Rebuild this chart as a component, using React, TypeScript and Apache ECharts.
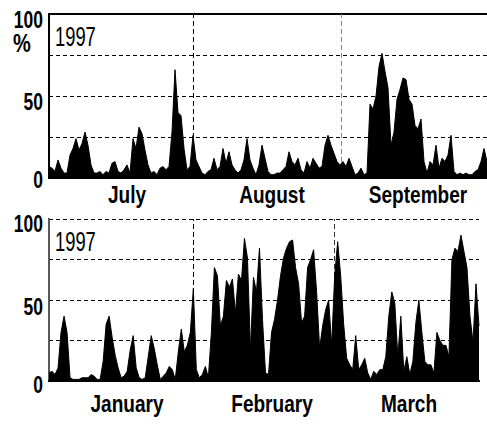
import React, { useEffect, useRef } from "react";
import * as echarts from "echarts";

const yearLabel = "1997";
const topMonths = ["July", "August", "September"];
const bottomMonths = ["January", "February", "March"];
const yTickLabels = [100, 50, 0];

// samples (every ~0.63 day) of percentage values
const topValues = [
  7, 6, 4, 11, 6, 3, 3, 14, 18, 24, 17, 21, 28, 20, 8, 3, 3, 4, 2, 4, 3, 9, 10, 4, 3, 5, 8, 3, 24, 18, 31, 27, 17, 8, 3, 4, 2, 6, 7, 5, 7, 28, 66, 40, 38, 18, 5, 7, 26,
  11, 7, 3, 2, 4, 5, 12, 5, 7, 18, 9, 16, 8, 5, 3, 5, 11, 24, 11, 6, 2, 8, 20, 12, 4, 2, 2, 3, 3, 5, 7, 16, 10, 8, 12, 5, 3, 10, 6, 12, 9, 6, 7, 20, 26, 20, 15, 10, 8,
  10, 7, 12, 7, 2, 3, 6, 2, 3, 45, 42, 50, 68, 76, 65, 55, 20, 28, 48, 54, 61, 60, 48, 45, 32, 30, 36, 10, 3, 10, 8, 20, 6, 12, 10, 14, 26, 4, 2, 3, 2, 3, 2, 2, 4, 5, 10, 18, 10,
];
const bottomValues = [
  5, 6, 4, 8, 30, 40, 30, 2, 1, 1, 1, 2, 2, 2, 4, 3, 1, 1, 12, 35, 40, 27, 16, 8, 2, 3, 6, 19, 28, 8, 2, 1, 2, 15, 28, 20, 10, 1, 3, 5, 9, 7, 1, 18, 32, 18, 22, 30, 57,
  7, 2, 4, 9, 2, 30, 70, 65, 34, 40, 62, 58, 63, 42, 66, 62, 88, 76, 19, 64, 55, 82, 38, 5, 4, 30, 38, 50, 65, 76, 82, 86, 87, 70, 60, 36, 40, 70, 75, 81, 55, 20, 34, 44, 50, 22, 65, 86, 65,
  35, 14, 10, 7, 28, 7, 10, 14, 5, 1, 6, 4, 7, 7, 15, 40, 55, 48, 15, 40, 6, 15, 4, 12, 36, 50, 30, 12, 10, 10, 5, 30, 25, 22, 22, 15, 75, 82, 80, 90, 80, 70, 40, 24, 60, 34,
];
// month boundaries, in sample units
const topBoundaries = [48, 97.3];
const bottomBoundaries = [48, 95];

const SANS = '"Liberation Sans", Arial, sans-serif';

function panel(idx: number, values: number[], bounds: number[], boundColors: string[], rightBorder: boolean) {
  const max = values.length - 1;
  const xAxes = [
    {
      gridIndex: idx, type: "value", min: 0, max, position: "bottom",
      axisLine: { show: true, lineStyle: { color: "#000", width: 2 } },
      axisTick: { show: false }, splitLine: { show: false }, axisLabel: { show: false },
    },
    {
      gridIndex: idx, type: "value", min: 0, max, position: "top",
      axisLine: { show: true, lineStyle: { color: "#000", width: 2 } },
      axisTick: { show: false }, splitLine: { show: false }, axisLabel: { show: false },
    },
  ];
  const yAxes: any[] = [
    {
      gridIndex: idx, type: "value", min: 0, max: 100, interval: 25,
      axisLine: { show: true, lineStyle: { color: "#000", width: 2 } },
      axisTick: { show: false },
      splitLine: { show: true, lineStyle: { color: "#000", width: 1, type: [4, 3] } },
      axisLabel: { show: false },
    },
  ];
  if (rightBorder) {
    yAxes.push({
      gridIndex: idx, type: "value", min: 0, max: 100, position: "right",
      axisLine: { show: true, lineStyle: { color: "#777", width: 1.5 } },
      axisTick: { show: false }, splitLine: { show: false }, axisLabel: { show: false },
    });
  }
  const series = {
    type: "line",
    xAxisIndex: idx * 2,
    yAxisIndex: idx === 0 ? 0 : 1,
    data: values.map((v, i) => [i, v]),
    symbol: "none",
    z: 3,
    lineStyle: { color: "#000", width: 1 },
    areaStyle: { color: "#000", opacity: 1 },
    markLine: {
      silent: true, symbol: "none", z: 1,
      label: { show: false },
      data: bounds.map((b, i) => ({ xAxis: b, lineStyle: { color: boundColors[i], width: 1, type: [5, 3] } })),
    },
  };
  return { xAxes, yAxes, series };
}

function txt(text: string, x: number, y: number, size: number, bold: boolean, scaleX: number, align: string) {
  return {
    type: "text", x, y, scaleX, silent: true,
    style: {
      text, x: 0, y: 0, fontSize: size, fontWeight: bold ? "bold" : "normal", fontFamily: SANS,
      fill: "#000", align, verticalAlign: "middle",
    },
  };
}

export default function App() {
  const ref = useRef<HTMLDivElement>(null);
  useEffect(() => {
    document.body.style.margin = "0";
    const chart = echarts.init(ref.current!, null, { renderer: "svg" });
    const a = panel(0, topValues, topBoundaries, ["#000", "#888"], false);
    const b = panel(1, bottomValues, bottomBoundaries, ["#000", "#333"], true);
    const topLabelY = [20, 102, 180];
    const bottomLabelY = [224, 307, 385];
    const topMonthX = [127, 272, 418];
    const bottomMonthX = [127, 272, 409];
    const graphic: any[] = [];
    yTickLabels.forEach((v, i) => {
      graphic.push(txt(String(v), 43, topLabelY[i], 23, true, 0.76, "right"));
      graphic.push(txt(String(v), 43, bottomLabelY[i], 23, true, 0.76, "right"));
    });
    graphic.push(txt("%", 22, 44, 25, true, 0.8, "center"));
    topMonths.forEach((m, i) => graphic.push(txt(m, topMonthX[i], 195, 23.5, true, 0.81, "center")));
    bottomMonths.forEach((m, i) => graphic.push(txt(m, bottomMonthX[i], 404, 23.5, true, 0.81, "center")));
    graphic.push(txt(yearLabel, 55, 37, 27, false, 0.68, "left"));
    graphic.push(txt(yearLabel, 55, 242, 27, false, 0.68, "left"));
    chart.setOption({
      animation: false,
      backgroundColor: "#fff",
      grid: [
        { left: 49, top: 14, width: 438, height: 164 },
        { left: 49, top: 219, width: 430, height: 162 },
      ],
      xAxis: [...a.xAxes, ...b.xAxes],
      yAxis: [...a.yAxes, ...b.yAxes],
      series: [a.series, b.series],
      graphic,
    });
    return () => chart.dispose();
  }, []);
  return <div ref={ref} style={{ width: 487, height: 425 }} />;
}
